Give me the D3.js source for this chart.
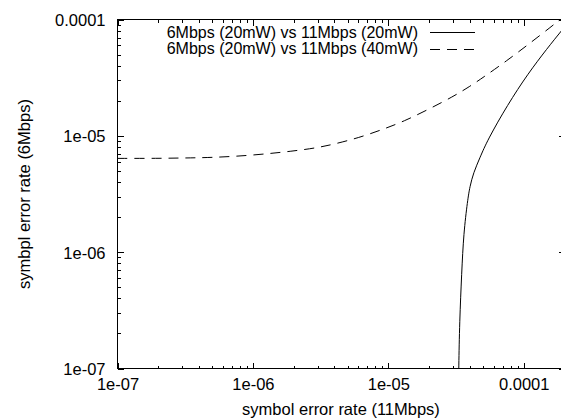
<!DOCTYPE html>
<html>
<head>
<meta charset="utf-8">
<script src="https://cdn.jsdelivr.net/npm/d3@7"></script>
<style>
  body { margin: 0; background: #fff; }
  svg { display: block; font-family: "Liberation Sans", Arial, Helvetica, sans-serif; }
</style>
</head>
<body>
<svg id="chart"></svg>
<script>
// axis ranges and tick labels
const xDomain = [1e-7, 2e-4];
const yDomain = [1e-7, 1e-4];
const xTicks = [1e-7, 1e-6, 1e-5, 1e-4];
const xTickLabels = ["1e-07", "1e-06", "1e-05", "0.0001"];
const yTicks = [1e-7, 1e-6, 1e-5, 1e-4];
const yTickLabels = ["1e-07", "1e-06", "1e-05", "0.0001"];

const seriesNames = [
  "6Mbps (20mW) vs 11Mbps (20mW)",
  "6Mbps (20mW) vs 11Mbps (40mW)"
];

// 11Mbps at 20mW (solid)
const ser20X = [3.3e-5, 3.3e-5, 3.31e-5, 3.36e-5, 3.48e-5, 3.6e-5, 3.85e-5, 4.0e-5, 4.25e-5, 4.75e-5, 5.4e-5, 7.6e-5, 1.07e-4, 1.5e-4, 1.9e-4, 2e-4];
const ser20Y = [5e-8, 6e-8, 1e-7, 2.5e-7, 6.6e-7, 1.45e-6, 2.8e-6, 3.65e-6, 4.8e-6, 6.5e-6, 9.2e-6, 1.85e-5, 3.4e-5, 5.7e-5, 8e-5, 8.6e-5];

// 11Mbps at 40mW (dashed)
const ser40X = [1e-7, 2e-7, 3e-7, 5e-7, 1e-6, 2e-6, 3e-6, 4e-6, 6e-6, 9e-6, 1.3e-5, 2e-5, 3e-5, 4e-5, 5e-5, 7.5e-5, 1.1e-4, 1.6e-4, 2e-4];
const ser40Y = [6.4e-6, 6.4e-6, 6.45e-6, 6.5e-6, 6.8e-6, 7.4e-6, 7.9e-6, 8.5e-6, 9.6e-6, 1.13e-5, 1.33e-5, 1.7e-5, 2.17e-5, 2.66e-5, 3.17e-5, 4.42e-5, 6.2e-5, 8.7e-5, 1.07e-4];

const width = 561;
const height = 420;
const plot = { left: 117.5, right: 564.5, top: 19.5, bottom: 368.5 };
const fontSize = 16.5;

const svg = d3.select("#chart").attr("width", width).attr("height", height);

const x = d3.scaleLog().domain(xDomain).range([plot.left, plot.right]);
const y = d3.scaleLog().domain(yDomain).range([plot.bottom, plot.top]);

// minor ticks 2..9 per decade
function minorTicks(domain) {
  const out = [];
  for (let e = -8; e <= -3; e++) {
    for (let m = 2; m <= 9; m++) {
      const v = m * Math.pow(10, e);
      if (v > domain[0] && v < domain[1]) out.push(v);
    }
  }
  return out;
}

function styleAxis(g) {
  g.select(".domain").remove();
  g.attr("font-family", null).attr("font-size", fontSize);
  g.selectAll(".tick line").attr("stroke", "#000").attr("shape-rendering", "crispEdges");
  g.selectAll(".tick text").attr("fill", "#000");
}

// bottom / top x axis
svg.append("g")
  .attr("transform", `translate(0,${plot.bottom})`)
  .call(d3.axisBottom(x).tickValues(xTicks).tickFormat((d, i) => xTickLabels[i])
    .tickSizeInner(-6).tickSizeOuter(0).tickPadding(10))
  .call(styleAxis);
svg.append("g")
  .attr("transform", `translate(0,${plot.bottom})`)
  .call(d3.axisBottom(x).tickValues(minorTicks(xDomain)).tickFormat("")
    .tickSizeInner(-3).tickSizeOuter(0))
  .call(styleAxis);
svg.append("g")
  .attr("transform", `translate(0,${plot.top})`)
  .call(d3.axisTop(x).tickValues(xTicks).tickFormat("").tickSizeInner(-6).tickSizeOuter(0))
  .call(styleAxis);
svg.append("g")
  .attr("transform", `translate(0,${plot.top})`)
  .call(d3.axisTop(x).tickValues(minorTicks(xDomain)).tickFormat("").tickSizeInner(-3).tickSizeOuter(0))
  .call(styleAxis);

// left / right y axis
svg.append("g")
  .attr("transform", `translate(${plot.left},0)`)
  .call(d3.axisLeft(y).tickValues(yTicks).tickFormat((d, i) => yTickLabels[i])
    .tickSizeInner(-6).tickSizeOuter(0).tickPadding(12))
  .call(styleAxis)
  .selectAll(".tick text").attr("dy", "0.36em");
svg.append("g")
  .attr("transform", `translate(${plot.left},0)`)
  .call(d3.axisLeft(y).tickValues(minorTicks(yDomain)).tickFormat("").tickSizeInner(-3).tickSizeOuter(0))
  .call(styleAxis);
svg.append("g")
  .attr("transform", `translate(${plot.right},0)`)
  .call(d3.axisRight(y).tickValues(yTicks).tickFormat("").tickSizeInner(-6).tickSizeOuter(0))
  .call(styleAxis);
svg.append("g")
  .attr("transform", `translate(${plot.right},0)`)
  .call(d3.axisRight(y).tickValues(minorTicks(yDomain)).tickFormat("").tickSizeInner(-3).tickSizeOuter(0))
  .call(styleAxis);

// plot border
svg.append("rect")
  .attr("x", plot.left).attr("y", plot.top)
  .attr("width", plot.right - plot.left).attr("height", plot.bottom - plot.top)
  .attr("fill", "none").attr("stroke", "#000").attr("shape-rendering", "crispEdges");

// clip curves to plot area
svg.append("clipPath").attr("id", "clip")
  .append("rect")
  .attr("x", plot.left).attr("y", plot.top)
  .attr("width", plot.right - plot.left).attr("height", plot.bottom - plot.top);

const line = d3.line()
  .x((d) => x(d[0]))
  .y((d) => y(d[1]))
  .curve(d3.curveBasis);

const series = [
  { pts: d3.zip(ser20X, ser20Y), dash: null },
  { pts: d3.zip(ser40X, ser40Y), dash: "10,7" }
];

svg.append("g").attr("clip-path", "url(#clip)")
  .selectAll("path")
  .data(series)
  .enter()
  .append("path")
  .attr("d", (d) => line(d.pts))
  .attr("fill", "none")
  .attr("stroke", "#000")
  .attr("stroke-width", 1)
  .attr("stroke-dasharray", (d) => d.dash);

// legend (top, right-aligned text with line samples)
const legend = svg.append("g");
series.forEach(function (s, i) {
  const cy = 32 + i * 16.5;
  legend.append("text")
    .attr("x", 418)
    .attr("y", cy + 5.5)
    .attr("text-anchor", "end")
    .style("font-size", "16px")
    .text(seriesNames[i]);
  legend.append("line")
    .attr("x1", 430).attr("x2", 475)
    .attr("y1", Math.round(cy) + 0.5).attr("y2", Math.round(cy) + 0.5)
    .attr("stroke", "#000")
    .attr("stroke-dasharray", s.dash);
});

// axis titles
svg.append("text")
  .attr("x", (plot.left + plot.right) / 2)
  .attr("y", 415)
  .attr("text-anchor", "middle")
  .style("font-size", fontSize + "px")
  .text("symbol error rate (11Mbps)");

svg.append("text")
  .attr("transform", `translate(30,${(plot.top + plot.bottom) / 2}) rotate(-90)`)
  .attr("text-anchor", "middle")
  .style("font-size", fontSize + "px")
  .text("symbpl error rate (6Mbps)");
</script>
</body>
</html>
